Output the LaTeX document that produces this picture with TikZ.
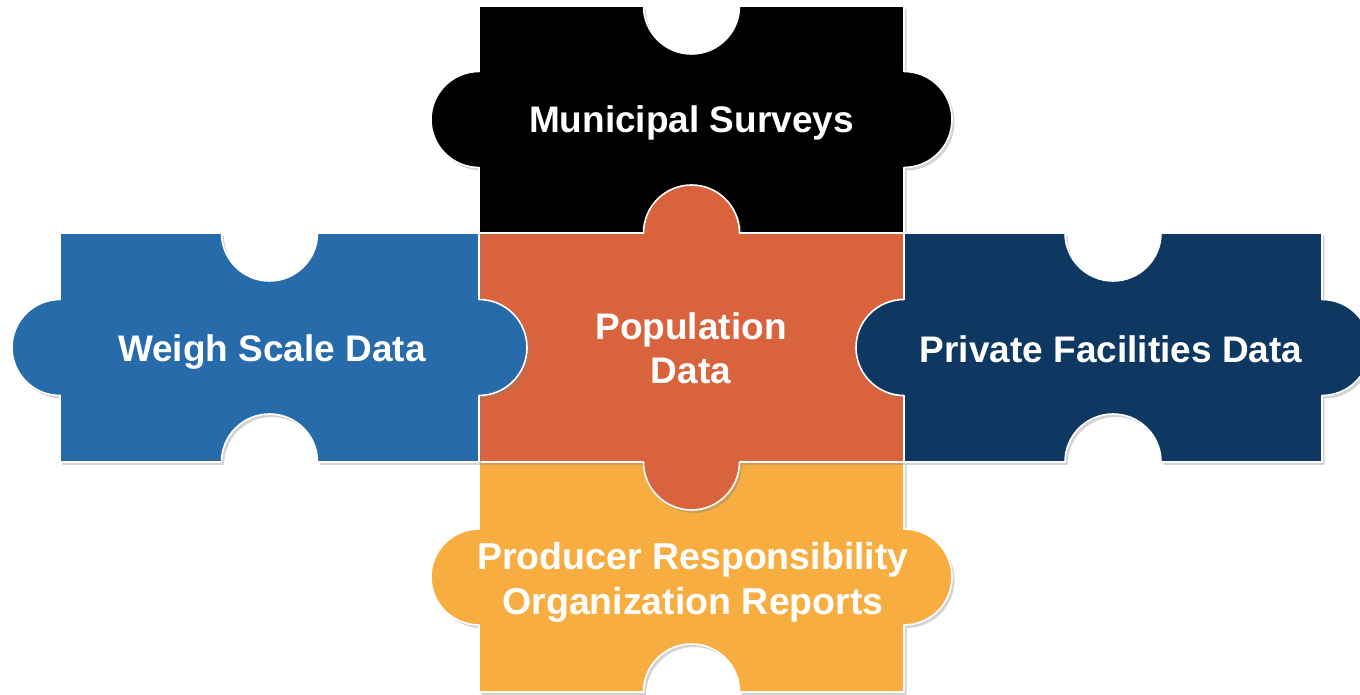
\documentclass[tikz,border=0pt]{standalone}
\usepackage{fontspec}
\setmainfont{Liberation Sans}
\usetikzlibrary{shadows}
\definecolor{pzBlack}{RGB}{0,0,0}
\definecolor{pzBlue}{RGB}{39,107,170}
\definecolor{pzOrange}{RGB}{217,99,61}
\definecolor{pzNavy}{RGB}{14,55,97}
\definecolor{pzYellow}{RGB}{248,173,64}
\tikzset{
  piece/.style={draw=white, line width=1.6pt, line join=round,
    drop shadow={opacity=0.35, shadow xshift=2.5pt, shadow yshift=-3pt}},
  label/.style={text=white, font=\bfseries\fontsize{37}{44}\selectfont, align=center, inner sep=0pt}
}
\begin{document}
\begin{tikzpicture}[x=1pt, y=1pt]
\useasboundingbox (0,0) rectangle (1360,695);
\clip (0,0) rectangle (1360,695);
\def\r{48}
% Black piece (top)
\path[piece, fill=pzBlack]
  (479,689) -- (643.5,689) arc[start angle=180, end angle=360, radius=\r] -- (904,689)
  -- (904,623.5) arc[start angle=90, end angle=-90, radius=\r] -- (904,462)
  -- (479,462) -- (479,527.5) arc[start angle=270, end angle=90, radius=\r] -- cycle;
% Yellow piece (bottom)
\path[piece, fill=pzYellow]
  (479,233) -- (904,233)
  -- (904,166) arc[start angle=90, end angle=-90, radius=\r] -- (904,3)
  -- (739.5,3) arc[start angle=0, end angle=180, radius=\r] -- (479,3)
  -- (479,70) arc[start angle=270, end angle=90, radius=\r] -- cycle;
% Orange piece (centre)
\path[piece, fill=pzOrange]
  (479,462) -- (643.5,462) arc[start angle=180, end angle=0, radius=\r] -- (904,462)
  -- (904,233) -- (739.5,233) arc[start angle=0, end angle=-180, radius=\r] -- (479,233)
  -- cycle;
% Blue piece (left)
\path[piece, fill=pzBlue]
  (60,462) -- (221.5,462) arc[start angle=180, end angle=360, radius=\r] -- (479,462)
  -- (479,395.5) arc[start angle=90, end angle=-90, radius=\r] -- (479,233)
  -- (317.5,233) arc[start angle=0, end angle=180, radius=\r] -- (60,233)
  -- (60,299.5) arc[start angle=270, end angle=90, radius=\r] -- cycle;
% Navy piece (right)
\path[piece, fill=pzNavy]
  (904,462) -- (1065,462) arc[start angle=180, end angle=360, radius=\r] -- (1322,462)
  -- (1322,395.5) arc[start angle=90, end angle=-90, radius=\r] -- (1322,233)
  -- (1161,233) arc[start angle=0, end angle=180, radius=\r] -- (904,233)
  -- (904,299.5) arc[start angle=270, end angle=90, radius=\r] -- cycle;
% Labels
\node[label] (municipal) at (691.5,572) {Municipal Surveys};
\node[label] (weigh) at (272,343) {Weigh Scale Data};
\node[label] (population) at (691,347) {Population\\Data};
\node[label] (private) at (1111,346) {Private Facilities Data};
\node[label, font=\bfseries\fontsize{37.5}{45}\selectfont] (producer) at (693,113) {Producer Responsibility\\Organization Reports};
\end{tikzpicture}
\end{document}
